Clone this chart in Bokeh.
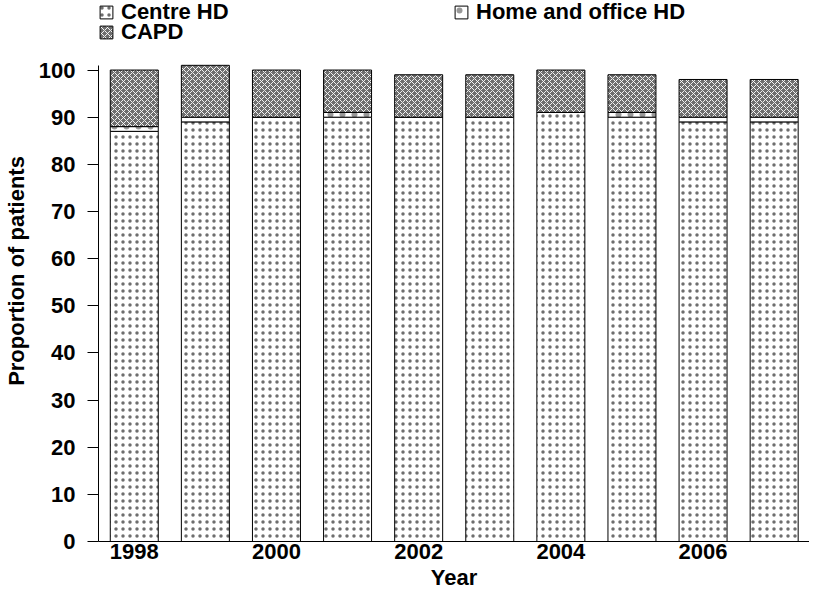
from bokeh.plotting import figure
from bokeh.models import Legend, LegendItem, FixedTicker, ColumnDataSource, Range1d
from bokeh.embed import file_html
from bokeh.resources import INLINE

years = [1998, 1999, 2000, 2001, 2002, 2003, 2004, 2005, 2006, 2007]
centre_hd = [87, 89, 90, 90, 90, 90, 91, 90, 89, 89]
home_hd = [1, 1, 0, 1, 0, 0, 0, 1, 1, 1]
capd = [12, 11, 10, 9, 9, 9, 9, 8, 8, 8]
x_ticks = [1998, 2000, 2002, 2004, 2006]
y_ticks = [0, 10, 20, 30, 40, 50, 60, 70, 80, 90, 100]

src = ColumnDataSource(dict(year=years, centre=centre_hd, home=home_hd, capd=capd))

FONT = "Liberation Sans"
FS = "22px"

p = figure(width=809, height=592, output_backend="svg", toolbar_location=None,
           x_range=Range1d(1997.497, 2007.497), y_range=Range1d(0, 114.75),
           min_border_left=98, min_border_right=0, min_border_top=0, min_border_bottom=51)
p.outline_line_color = None
p.xgrid.visible = False
p.ygrid.visible = False

renderers = p.vbar_stack(["centre", "home", "capd"], x="year", width=0.675, source=src,
                         fill_color=["white", "white", "#6e6e6e"],
                         line_color="black", line_width=1,
                         hatch_pattern=["dot", "dot", "diagonal_cross"],
                         hatch_color=["#555555", "#555555", "white"],
                         hatch_alpha=[0.85, 0.6, 0.9],
                         hatch_scale=[7, 12, 6], hatch_weight=[1, 1, 1])

p.xaxis.ticker = FixedTicker(ticks=x_ticks)
p.yaxis.ticker = FixedTicker(ticks=y_ticks)
p.yaxis.bounds = (0, 101.0)
p.xaxis.major_tick_line_color = None
p.xaxis.minor_tick_line_color = None
p.xaxis.major_tick_out = 0
p.xaxis.major_tick_in = 0
p.xaxis.minor_tick_out = 0
p.yaxis.minor_tick_line_color = None
p.yaxis.minor_tick_out = 0
p.yaxis.major_tick_out = 11
p.yaxis.major_tick_in = 0
for ax in (p.xaxis, p.yaxis):
    ax.axis_line_color = "black"
    ax.major_label_text_font = FONT
    ax.major_label_text_font_style = "bold"
    ax.major_label_text_font_size = FS
    ax.major_label_text_color = "black"
    ax.axis_label_text_font = FONT
    ax.axis_label_text_font_style = "bold"
    ax.axis_label_text_font_size = FS
    ax.axis_label_text_color = "black"
p.xaxis.axis_label = "Year"
p.yaxis.axis_label = "Proportion of patients"
p.xaxis.major_label_standoff = 2
p.xaxis.axis_label_standoff = 3
p.yaxis.major_label_standoff = 12
p.yaxis.axis_label_standoff = 7

labels = ["Centre HD", "Home and office HD", "CAPD"]
locs = [(0, 516), (355, 516), (0, 496)]
for r, lab, loc in zip(renderers, labels, locs):
    lg = Legend(items=[LegendItem(label=lab, renderers=[r])], location=loc,
                padding=0, margin=0, spacing=0, border_line_color=None,
                background_fill_alpha=0, glyph_width=16, glyph_height=16,
                label_standoff=7, label_text_font=FONT, label_text_font_style="bold",
                label_text_font_size=FS, label_text_color="black")
    p.add_layout(lg)

open("out.html", "w").write(file_html(p, INLINE))
